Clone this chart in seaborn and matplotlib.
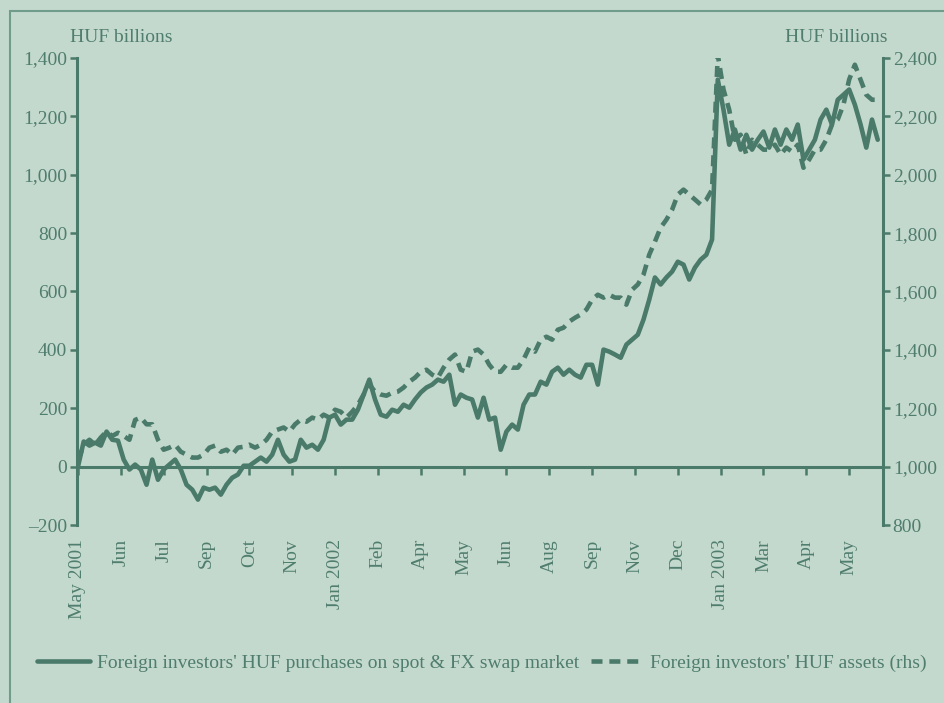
import numpy as np
import pandas as pd
import matplotlib
matplotlib.use("Agg")
import matplotlib.pyplot as plt
import seaborn as sns
from matplotlib.patches import Rectangle
from matplotlib.ticker import FixedLocator, FuncFormatter

# ---------------- data ----------------
obs = list(range(0, 561, 4))  # business-day observation number

purchases = [
    0, 86, 72, 82, 72, 120, 92, 89, 24, -10, 7, -10, -62, 24, -45, -10, 7, 24, -10, -62,
    -79, -113, -72, -79, -72, -96, -62, -38, -27, 3, 3, 17, 31, 17, 41, 92, 41, 17, 24, 92,
    65, 75, 58, 92, 168, 178, 144, 161, 161, 195, 247, 298, 230, 178, 171, 195, 188, 212, 202, 230,
    254, 271, 281, 298, 291, 315, 212, 247, 236, 230, 168, 236, 161, 168, 58, 120, 144, 127, 212, 247,
    247, 291, 281, 325, 339, 315, 332, 315, 305, 349, 349, 281, 401, 394, 384, 373, 418, 435, 452, 504,
    572, 648, 624, 648, 668, 702, 692, 641, 682, 709, 726, 778, 1326, 1223, 1103, 1155, 1086, 1137, 1086, 1120,
    1148, 1093, 1155, 1103, 1155, 1120, 1172, 1052, 1086, 1120, 1189, 1223, 1172, 1257, 1274, 1292, 1240, 1172, 1093, 1189,
    1120,
]

assets = [
    1020, 1075, 1092, 1075, 1100, 1120, 1105, 1116, 1105, 1092, 1160, 1168, 1145, 1145, 1092, 1058, 1065, 1075, 1051, 1041,
    1031, 1031, 1041, 1065, 1072, 1051, 1058, 1041, 1065, 1068, 1075, 1065, 1075, 1092, 1120, 1127, 1134, 1120, 1145, 1161,
    1154, 1168, 1161, 1178, 1168, 1195, 1188, 1168, 1188, 1212, 1247, 1281, 1257, 1247, 1243, 1253, 1257, 1271, 1291, 1305,
    1325, 1332, 1315, 1305, 1339, 1367, 1384, 1332, 1325, 1394, 1401, 1384, 1349, 1325, 1325, 1349, 1339, 1339, 1367, 1408,
    1394, 1435, 1445, 1435, 1469, 1476, 1497, 1510, 1521, 1538, 1572, 1589, 1579, 1589, 1579, 1579, 1555, 1606, 1624, 1658,
    1726, 1771, 1819, 1846, 1880, 1932, 1949, 1932, 1915, 1898, 1915, 1949, 2411, 2292, 2223, 2120, 2137, 2069, 2120, 2103,
    2086, 2086, 2103, 2069, 2093, 2079, 2103, 2024, 2052, 2086, 2086, 2120, 2172, 2189, 2240, 2326, 2377, 2326, 2274, 2257,
    2257,
]

tick_obs = list(range(0, 541, 30))
tick_labels = ["May 2001", "Jun", "Jul", "Sep", "Oct", "Nov", "Jan 2002", "Feb", "Apr", "May",
               "Jun", "Aug", "Sep", "Nov", "Dec", "Jan 2003", "Mar", "Apr", "May"]
left_ticks = [-200, 0, 200, 400, 600, 800, 1000, 1200, 1400]
right_ticks = [800, 1000, 1200, 1400, 1600, 1800, 2000, 2200, 2400]

label_solid = "Foreign investors' HUF purchases on spot & FX swap market"
label_dash = "Foreign investors' HUF assets (rhs)"
unit = "HUF billions"

# ---------------- style ----------------
BG = "#c4d9cd"
LINE = "#4a7a6a"
TXT = "#4f7d6e"
BORDER = "#6f9c8b"

sns.set_style("white")
plt.rcParams["font.family"] = ["Liberation Serif", "DejaVu Serif"]
plt.rcParams["font.size"] = 14

df = pd.DataFrame({"obs": obs, "purchases": purchases, "assets": assets})

fig = plt.figure(figsize=(9.45, 7.03), dpi=100, facecolor=BG)
ax = fig.add_axes([77 / 945, 1 - 525 / 703, 806 / 945, 467 / 703])
ax.set_facecolor("none")
ax2 = ax.twinx()
ax2.set_facecolor("none")

sns.lineplot(data=df, x="obs", y="purchases", ax=ax, color=LINE, lw=3.3,
             label=label_solid, legend=False)
sns.lineplot(data=df, x="obs", y="assets", ax=ax2, color=LINE, lw=3.3,
             linestyle=(0, (2.4, 1.5)), label=label_dash, legend=False)

ax.set_xlim(-0.7, 563.7)
ax.set_ylim(-200, 1400)
ax2.set_ylim(800, 2400)

fmt = FuncFormatter(lambda v, p: f"{v:,.0f}".replace("-", "\u2013"))
ax.yaxis.set_major_locator(FixedLocator(left_ticks))
ax.yaxis.set_major_formatter(fmt)
ax2.yaxis.set_major_locator(FixedLocator(right_ticks))
ax2.yaxis.set_major_formatter(fmt)

for a in (ax, ax2):
    for s in ("top", "bottom"):
        a.spines[s].set_visible(False)
    a.set_xlabel("")
    a.set_ylabel("")
ax.spines["right"].set_visible(False)
ax2.spines["left"].set_visible(False)
ax.spines["left"].set_color(LINE)
ax.spines["left"].set_linewidth(2.2)
ax2.spines["right"].set_color(LINE)
ax2.spines["right"].set_linewidth(2.2)

ax.tick_params(axis="y", direction="out", length=5, width=1.8, color=LINE,
               labelcolor=TXT, labelsize=14, pad=2, left=True)
ax2.tick_params(axis="y", direction="out", length=5, width=1.8, color=LINE,
                labelcolor=TXT, labelsize=14, pad=2, right=True)

# x labels at the bottom of the plot area
ax.xaxis.set_major_locator(FixedLocator(tick_obs))
ax.set_xticklabels(tick_labels, rotation=90)
ax.tick_params(axis="x", length=0, pad=10, labelcolor=TXT, labelsize=14)

# zero line with tick marks
sec = ax.secondary_xaxis(0.125)
sec.xaxis.set_major_locator(FixedLocator(tick_obs))
sec.tick_params(axis="x", direction="out", length=6, width=1.8, color=LINE,
                labelbottom=False)
sec.spines["bottom"].set_color(LINE)
sec.spines["bottom"].set_linewidth(2.2)
sec.set_xlabel("")

ax.text(-0.009, 1.043, unit, transform=ax.transAxes, ha="left", va="center",
        color=TXT, fontsize=14)
ax2.text(1.006, 1.043, unit, transform=ax2.transAxes, ha="right", va="center",
         color=TXT, fontsize=14)

handles = ax.get_lines()[:1] + ax2.get_lines()[:1]
fig.legend(handles, [label_solid, label_dash], loc="center", ncol=2,
           bbox_to_anchor=(0.51, 1 - 663 / 703), frameon=False, fontsize=14,
           labelcolor=TXT, handlelength=2.7, handletextpad=0.35, columnspacing=0.6)

fig.patches.append(Rectangle((10 / 945, -0.1), 1.0, 1.1 - 11 / 703, transform=fig.transFigure,
                             fill=False, edgecolor=BORDER, linewidth=1.5))

fig.savefig("out.png", dpi=100, facecolor=BG)
